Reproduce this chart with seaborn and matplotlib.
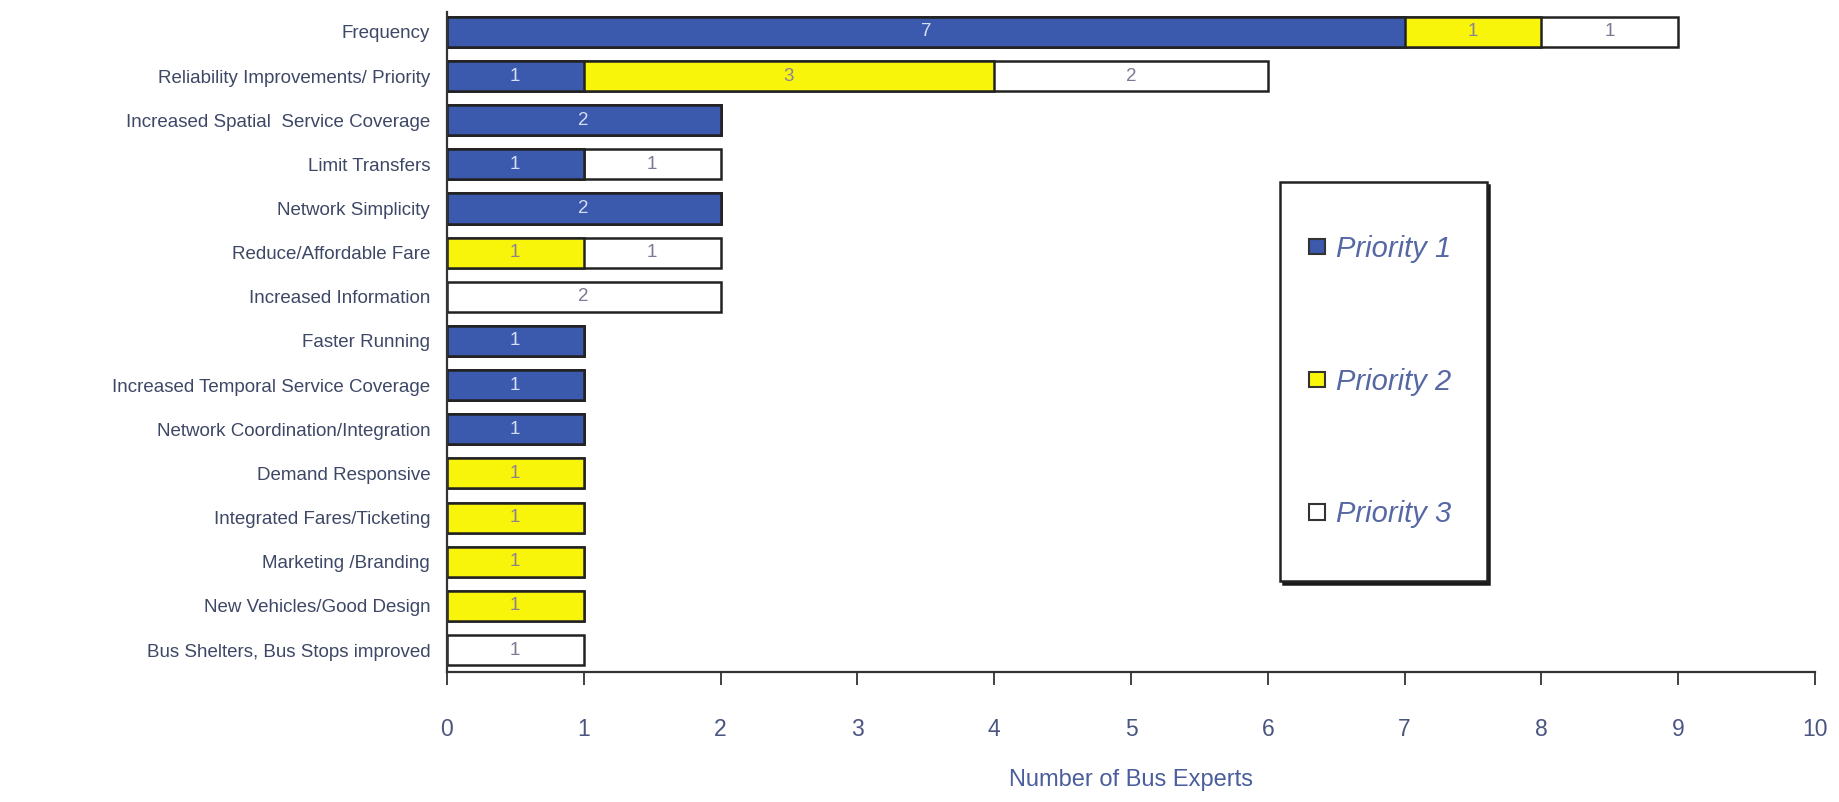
import matplotlib
matplotlib.use("Agg")
import matplotlib.pyplot as plt
from matplotlib.patches import Patch, Rectangle
from matplotlib.legend_handler import HandlerPatch
import numpy as np
import pandas as pd
import seaborn as sns

# Survey results: how many bus experts named each improvement, split by priority
categories = [
    "Frequency",
    "Reliability Improvements/ Priority",
    "Increased Spatial  Service Coverage",
    "Limit Transfers",
    "Network Simplicity",
    "Reduce/Affordable Fare",
    "Increased Information",
    "Faster Running",
    "Increased Temporal Service Coverage",
    "Network Coordination/Integration",
    "Demand Responsive",
    "Integrated Fares/Ticketing",
    "Marketing /Branding",
    "New Vehicles/Good Design",
    "Bus Shelters, Bus Stops improved",
]
priority_1 = [7, 1, 2, 1, 2, 0, 0, 1, 1, 1, 0, 0, 0, 0, 0]
priority_2 = [1, 3, 0, 0, 0, 1, 0, 0, 0, 0, 1, 1, 1, 1, 0]
priority_3 = [1, 2, 0, 1, 0, 1, 2, 0, 0, 0, 0, 0, 0, 0, 1]
series_names = ["Priority 1", "Priority 2", "Priority 3"]
x_ticks = list(range(0, 11))

BLUE = "#3b59ad"
YELLOW = "#f9f50a"
WHITE = "#ffffff"
EDGE = "#222222"

df = pd.DataFrame({"category": categories,
                   "p1": priority_1, "p2": priority_2, "p3": priority_3})
df["cum1"] = df["p1"]
df["cum2"] = df["p1"] + df["p2"]
df["cum3"] = df["p1"] + df["p2"] + df["p3"]

sns.set_theme(style="white")
plt.rcParams["font.family"] = ["Liberation Sans", "DejaVu Sans"]

fig = plt.figure(figsize=(18.39, 8.02), dpi=100)
ax = fig.add_axes([0.243, 0.162, 0.744, 0.823])

# Stacked bars: draw cumulative totals back-to-front so each segment shows
for col, color in [("cum3", WHITE), ("cum2", YELLOW), ("cum1", BLUE)]:
    sub = df[df[col] > 0]
    sns.barplot(data=sub, x=col, y="category", order=categories, orient="h",
                color=color, saturation=1, width=0.68, edgecolor=EDGE,
                linewidth=1.8, ax=ax)

# Segment value labels centred in each segment
for i, row in df.iterrows():
    start = 0
    for val, txtcol in [(row["p1"], "#d6def5"), (row["p2"], "#8c8296"),
                        (row["p3"], "#7f7894")]:
        if val > 0:
            ax.text(start + val / 2, i, str(val), ha="center", va="center",
                    fontsize=13.5, color=txtcol)
        start += val

ax.set_xlim(0, 10)
ax.set_ylim(len(categories) - 0.5, -0.45)
ax.set_xticks(x_ticks)
ax.set_xticklabels([str(t) for t in x_ticks])
ax.set_ylabel("")
ax.set_xlabel("Number of Bus Experts", fontsize=17, color="#4a5d9c", labelpad=20)

for side in ["top", "right"]:
    ax.spines[side].set_visible(False)
for side in ["left", "bottom"]:
    ax.spines[side].set_color("#333333")
    ax.spines[side].set_linewidth(1.6)

ax.tick_params(axis="x", which="both", bottom=True, length=9, width=1.3,
               color="#333333", direction="out", pad=24, labelsize=16.5,
               labelcolor="#4a5680")
ax.tick_params(axis="y", which="both", left=False, length=0, pad=12,
               labelsize=13.5, labelcolor="#3e4866")

# Legend: small square swatches sitting level with the text, tall rows
SWATCH = 11.0  # points


def small_square(legend, orig_handle, xdescent, ydescent, width, height,
                 fontsize):
    return Rectangle((-xdescent, 0.36 * fontsize - SWATCH / 2), SWATCH, SWATCH)


handles = [Patch(facecolor=c, edgecolor="#333333", linewidth=1.5, label=n)
           for c, n in zip([BLUE, YELLOW, WHITE], series_names)]
leg = ax.legend(handles=handles, loc="upper left",
                bbox_to_anchor=(0.609, 0.742, 0.151, 0.0), mode="expand",
                prop={"style": "italic", "size": 21}, labelcolor="#5668a3",
                frameon=True, fancybox=False, edgecolor="#222222",
                framealpha=1, borderpad=1.0, labelspacing=1.96,
                handlelength=0.55, handleheight=3.6, handletextpad=0.35,
                borderaxespad=0,
                handler_map={Patch: HandlerPatch(patch_func=small_square)},
                shadow={"color": "#1a1a1a", "alpha": 1.0})
leg.get_frame().set_linewidth(1.8)

fig.savefig("out.png", dpi=100, facecolor="white")
